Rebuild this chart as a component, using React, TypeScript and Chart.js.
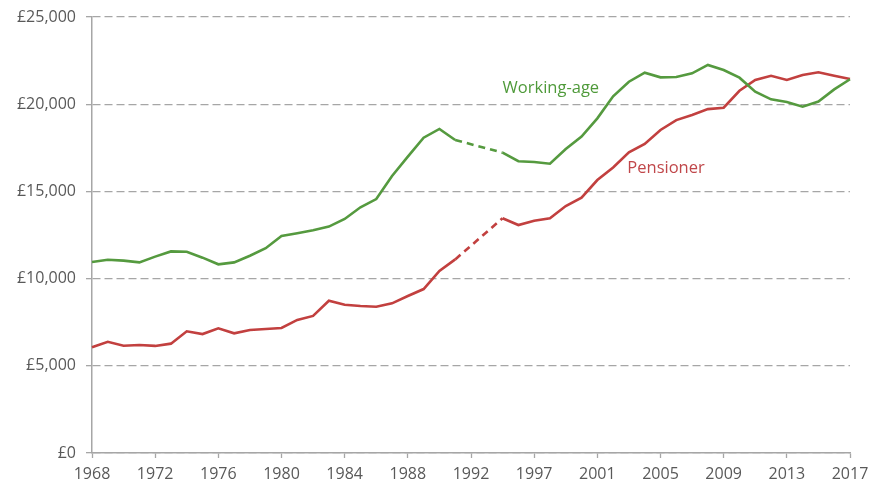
import React, { useEffect, useRef } from "react";
import { Chart, registerables } from "chart.js";

Chart.register(...registerables);

const years: string[] = [
  "1968", "1969", "1970", "1971", "1972", "1973", "1974", "1975", "1976", "1977",
  "1978", "1979", "1980", "1981", "1982", "1983", "1984", "1985", "1986", "1987",
  "1988", "1989", "1990", "1991", "1992", "1994", "1995", "1996", "1997", "1998",
  "1999", "2000", "2001", "2002", "2003", "2004", "2005", "2006", "2007", "2008",
  "2009", "2010", "2011", "2012", "2013", "2014", "2015", "2016", "2017",
];

const workingAge: (number | null)[] = [
  10950, 11080, 11030, 10930, 11260, 11560, 11540, 11200, 10820, 10930,
  11310, 11740, 12440, 12600, 12770, 12980, 13420, 14090, 14560, 15880,
  16990, 18080, 18580, 17950, null, null, 17220, 16730, 16690, 16590,
  17430, 18140, 19190, 20450, 21290, 21810, 21540, 21560, 21770, 22250,
  21960, 21520, 20720, 20280, 20130, 19860, 20150, 20850, 21430,
];

const pensioner: (number | null)[] = [
  6060, 6380, 6150, 6190, 6140, 6270, 6980, 6820, 7150, 6860,
  7050, 7110, 7170, 7630, 7860, 8730, 8500, 8430, 8390, 8580,
  9000, 9400, 10440, 11100, null, null, 13460, 13070, 13320, 13460,
  14160, 14640, 15650, 16370, 17240, 17720, 18520, 19090, 19380, 19720,
  19800, 20770, 21390, 21630, 21390, 21670, 21830, 21630, 21440,
];

// series labels: [text, category index, value]
const seriesLabels: { text: string; index: number; value: number; color: string }[] = [
  { text: "Working-age", index: 26.0, value: 20930, color: "#4f9a3a" },
  { text: "Pensioner", index: 33.9, value: 16340, color: "#c0474a" },
];

const GREEN = "#559a3f";
const RED = "#c2403f";
const AXIS = "#a6a6a6";
const TEXT = "#595959";
const FONT = "'Open Sans', 'Noto Sans', sans-serif";

const gapDash = (ctx: any) => (ctx.p0.skip || ctx.p1.skip ? [7, 5] : undefined);

export default function App() {
  const ref = useRef<HTMLCanvasElement | null>(null);

  useEffect(() => {
    if (!ref.current) return;
    const labelPlugin = {
      id: "seriesLabels",
      afterDatasetsDraw(chart: any) {
        const { ctx, scales } = chart;
        ctx.save();
        ctx.font = `16.5px ${FONT}`;
        ctx.textAlign = "left";
        ctx.textBaseline = "middle";
        for (const l of seriesLabels) {
          ctx.fillStyle = l.color;
          ctx.fillText(l.text, scales.x.getPixelForValue(l.index), scales.y.getPixelForValue(l.value));
        }
        ctx.restore();
      },
    };

    const chart = new Chart(ref.current, {
      type: "line",
      data: {
        labels: years,
        datasets: [
          {
            label: "Working-age",
            data: workingAge,
            borderColor: GREEN,
            borderWidth: 2.6,
            pointRadius: 0,
            spanGaps: true,
            tension: 0,
            segment: { borderDash: gapDash },
          },
          {
            label: "Pensioner",
            data: pensioner,
            borderColor: RED,
            borderWidth: 2.6,
            pointRadius: 0,
            spanGaps: true,
            tension: 0,
            segment: { borderDash: gapDash },
          },
        ],
      },
      options: {
        responsive: false,
        animation: false,
        layout: { padding: { left: 0, right: 22, top: 17, bottom: 0 } },
        plugins: { legend: { display: false }, tooltip: { enabled: false } },
        scales: {
          x: {
            type: "category",
            offset: false,
            afterFit: (s: any) => {
              s.height = 29;
              s.paddingLeft = 0;
              s.paddingRight = 0;
            },
            grid: {
              drawOnChartArea: false,
              drawTicks: true,
              tickLength: 5,
              tickColor: (c: any) => (c.index % 4 === 0 ? AXIS : "transparent"),
              tickWidth: 1.3,
            },
            border: { color: AXIS, width: 1.5 },
            ticks: {
              autoSkip: false,
              maxRotation: 0,
              padding: 7,
              color: TEXT,
              font: { family: FONT, size: 16 },
              callback: (_v: any, i: number) => (i % 4 === 0 ? years[i] : ""),
            },
          },
          y: {
            min: 0,
            max: 25000,
            afterFit: (s: any) => {
              s.width = 92;
              s.paddingTop = 0;
              s.paddingBottom = 0;
            },
            grid: {
              color: AXIS,
              lineWidth: 1.3,
              tickLength: 6,
              tickColor: AXIS,
              tickWidth: 1.3,
            },
            border: { color: AXIS, width: 1.5, dash: [8, 4] },
            ticks: {
              stepSize: 5000,
              padding: 10,
              color: TEXT,
              font: { family: FONT, size: 16 },
              callback: (v: any) => "£" + Number(v).toLocaleString("en-GB"),
            },
          },
        },
      },
      plugins: [labelPlugin],
    });
    return () => chart.destroy();
  }, []);

  return (
    <div style={{ position: "absolute", left: 0, top: 0, width: 872, height: 482, background: "#fff" }}>
      <canvas ref={ref} width={872} height={482} style={{ display: "block", width: 872, height: 482 }} />
    </div>
  );
}
